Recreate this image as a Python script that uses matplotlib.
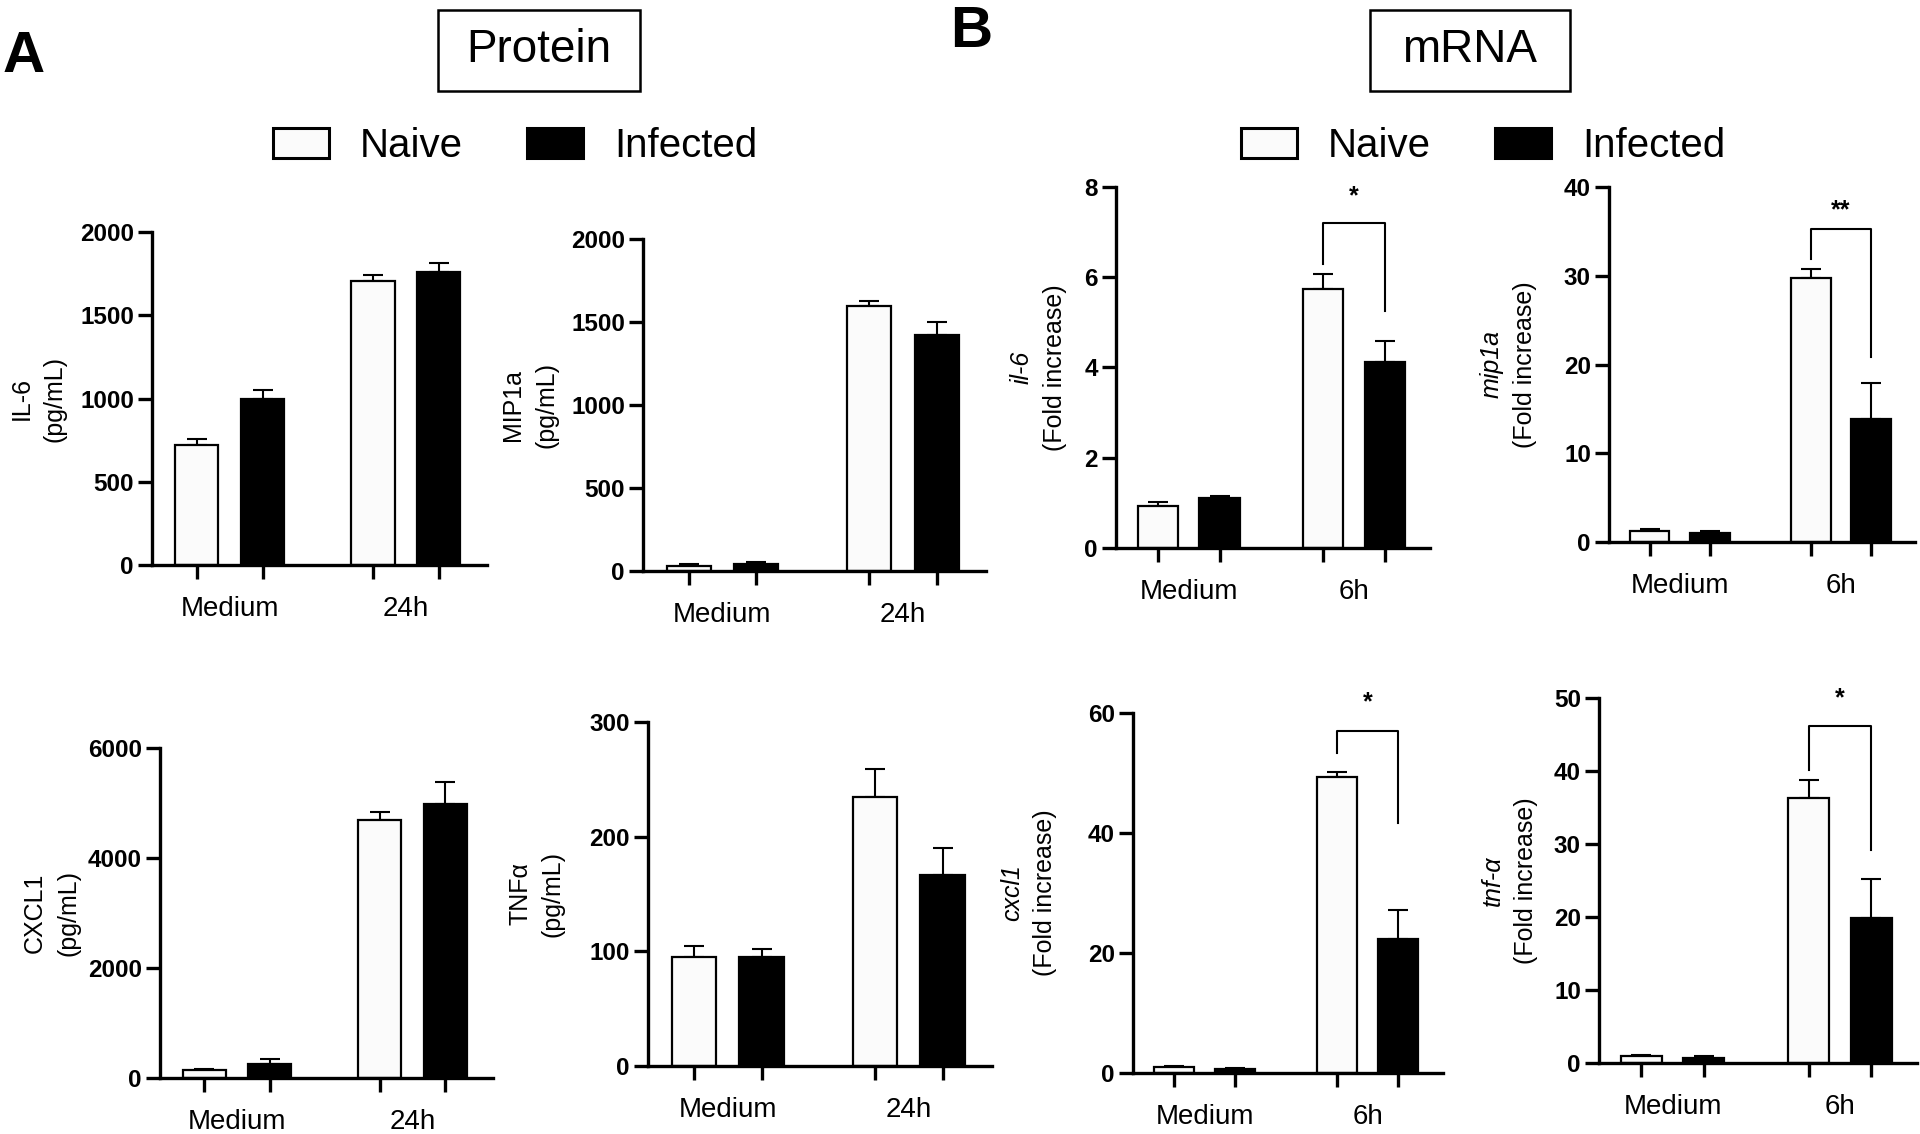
import numpy as np
import matplotlib
matplotlib.use("Agg")
import matplotlib.pyplot as plt
from matplotlib.patches import Rectangle

plt.rcParams['font.family'] = ['Liberation Sans', 'DejaVu Sans']

# ---------------- data ----------------
groups_protein = ["Medium", "24h"]
groups_mrna = ["Medium", "6h"]
series_names = ["Naive", "Infected"]

# Protein (pg/mL): mean and upper SEM
il6_naive = [722, 1707]
il6_naive_err = [36, 36]
il6_inf = [997, 1761]
il6_inf_err = [54, 54]

mip1a_naive = [30, 1596]
mip1a_naive_err = [15, 31]
mip1a_inf = [40, 1422]
mip1a_inf_err = [15, 78]

cxcl1_naive = [139, 4697]
cxcl1_naive_err = [25, 140]
cxcl1_inf = [255, 4982]
cxcl1_inf_err = [97, 406]

tnfa_naive = [95, 235]
tnfa_naive_err = [10, 24]
tnfa_inf = [95, 167]
tnfa_inf_err = [7, 23]

# mRNA (fold increase)
il6m_naive = [0.94, 5.74]
il6m_naive_err = [0.07, 0.33]
il6m_inf = [1.11, 4.12]
il6m_inf_err = [0.05, 0.46]

mip1am_naive = [1.24, 29.75]
mip1am_naive_err = [0.2, 1.05]
mip1am_inf = [1.02, 13.9]
mip1am_inf_err = [0.26, 4.07]

cxcl1m_naive = [0.94, 49.4]
cxcl1m_naive_err = [0.16, 0.8]
cxcl1m_inf = [0.72, 22.4]
cxcl1m_inf_err = [0.11, 4.8]

tnfam_naive = [1.0, 36.3]
tnfam_naive_err = [0.1, 2.5]
tnfam_inf = [0.7, 19.9]
tnfam_inf_err = [0.3, 5.3]

# significance brackets: (left leg bottom, top, right leg bottom), label, label height
il6m_bracket = ([6.3, 7.2, 5.25], "*", 7.8)
mip1am_bracket = ([31.9, 35.3, 20.8], "**", 37.4)
cxcl1m_bracket = ([53.3, 57.0, 41.7], "*", 61.8)
tnfam_bracket = ([40.1, 46.2, 29.2], "*", 50.0)

yt_il6 = [0, 500, 1000, 1500, 2000]
yt_mip = [0, 500, 1000, 1500, 2000]
yt_cxcl = [0, 2000, 4000, 6000]
yt_tnf = [0, 100, 200, 300]
yt_il6m = [0, 2, 4, 6, 8]
yt_mipm = [0, 10, 20, 30, 40]
yt_cxclm = [0, 20, 40, 60]
yt_tnfm = [0, 10, 20, 30, 40, 50]

# ---------------- figure ----------------
W, H = 1920, 1134
fig = plt.figure(figsize=(W / 100, H / 100), dpi=100)
fig.patch.set_facecolor('white')

OFF = 0.187
BW = 0.245
SPINE = 2.4
NAIVE_C = '#fbfbfb'


def panel(box, groups, naive, naive_err, inf, inf_err, yticks, line1, line2,
          italic, label_dx, bracket=None):
    L, R, T, Z = box
    ax = fig.add_axes([L / W, 1 - Z / H, (R - L) / W, (Z - T) / H])
    x = np.arange(len(groups))
    b1 = ax.bar(x - OFF, naive, width=BW, color=NAIVE_C, edgecolor='black',
                linewidth=1.6, zorder=2)
    b2 = ax.bar(x + OFF, inf, width=BW, color='black', edgecolor='black',
                linewidth=1.6, zorder=2)
    z = np.zeros(len(x))
    ax.errorbar(x - OFF, naive, yerr=[z, naive_err], fmt='none', ecolor='black',
                elinewidth=1.5, capsize=7.5, capthick=1.5, zorder=1)
    ax.errorbar(x + OFF, inf, yerr=[z, inf_err], fmt='none', ecolor='black',
                elinewidth=1.5, capsize=7.5, capthick=1.5, zorder=1)

    ax.set_xlim(-0.44, 1.46)
    ax.set_ylim(0, yticks[-1])
    ax.spines['top'].set_visible(False)
    ax.spines['right'].set_visible(False)
    for s in ('left', 'bottom'):
        ax.spines[s].set_linewidth(SPINE)
    ax.spines['left'].set_bounds(0, yticks[-1])

    ax.set_xticks(np.sort(np.concatenate([x - OFF, x + OFF])))
    ax.set_xticklabels([])
    ax.set_xticks(x, minor=True)
    ax.set_xticklabels(groups, minor=True)
    ax.tick_params(axis='x', which='major', length=10, width=SPINE, direction='out')
    ax.tick_params(axis='x', which='minor', length=0, pad=22, labelsize=20)
    ax.set_yticks(yticks)
    ax.set_yticklabels([str(v) for v in yticks])
    ax.tick_params(axis='y', length=10, width=SPINE, pad=3, labelsize=17.5)
    for lbl in ax.get_yticklabels():
        lbl.set_fontweight('bold')

    wpx = R - L
    xr = label_dx / wpx
    ax.text(xr, 0.5, line2, rotation=90, ha='right', va='center',
            transform=ax.transAxes, fontsize=18)
    ax.text(xr - 33 / wpx, 0.5, line1, rotation=90, ha='right', va='center',
            transform=ax.transAxes, fontsize=18,
            style='italic' if italic else 'normal')

    if bracket is not None:
        (yl, yt, yr), lab, ys = bracket
        x0, x1 = x[1] - OFF, x[1] + OFF
        ax.plot([x0, x0, x1, x1], [yl, yt, yt, yr], color='black', lw=1.5,
                clip_on=False, zorder=3)
        ax.text((x0 + x1) / 2, ys, lab, ha='center', va='center', fontsize=18,
                fontweight='bold', clip_on=False)
    return ax, b1, b2


ax1, hn, hi = panel((152, 487, 232, 565), groups_protein, il6_naive, il6_naive_err,
                    il6_inf, il6_inf_err, yt_il6, "IL-6", "(pg/mL)", False, -85)
panel((643, 986, 239, 571), groups_protein, mip1a_naive, mip1a_naive_err,
      mip1a_inf, mip1a_inf_err, yt_mip, "MIP1a", "(pg/mL)", False, -85)
panel((160, 493, 748, 1078), groups_protein, cxcl1_naive, cxcl1_naive_err,
      cxcl1_inf, cxcl1_inf_err, yt_cxcl, "CXCL1", "(pg/mL)", False, -80)
panel((648, 992, 722, 1066), groups_protein, tnfa_naive, tnfa_naive_err,
      tnfa_inf, tnfa_inf_err, yt_tnf, "TNF\u03b1", "(pg/mL)", False, -83)

panel((1116, 1430, 187, 548), groups_mrna, il6m_naive, il6m_naive_err,
      il6m_inf, il6m_inf_err, yt_il6m, "il-6", "(Fold increase)", True, -49,
      il6m_bracket)
panel((1609, 1915, 187, 542), groups_mrna, mip1am_naive, mip1am_naive_err,
      mip1am_inf, mip1am_inf_err, yt_mipm, "mip1a", "(Fold increase)", True, -72,
      mip1am_bracket)
panel((1133, 1443, 713, 1073), groups_mrna, cxcl1m_naive, cxcl1m_naive_err,
      cxcl1m_inf, cxcl1m_inf_err, yt_cxclm, "cxcl1", "(Fold increase)", True, -76,
      cxcl1m_bracket)
panel((1599, 1917, 698, 1063), groups_mrna, tnfam_naive, tnfam_naive_err,
      tnfam_inf, tnfam_inf_err, yt_tnfm, "tnf-\u03b1", "(Fold increase)", True, -61,
      tnfam_bracket)

# legends
for cx in (515, 1483):
    leg = fig.legend([hn, hi], series_names, loc='center',
                     bbox_to_anchor=(cx / W, 1 - 146 / H), ncol=2, frameon=False,
                     fontsize=29, handlelength=1.4, handleheight=0.74,
                     handletextpad=0.77, columnspacing=1.58)
    for p in leg.get_patches():
        p.set_linewidth(2.2)

# section titles
for (x0, x1, txt) in ((438, 640, "Protein"), (1370, 1570, "mRNA")):
    fig.add_artist(Rectangle((x0 / W, 1 - 91 / H), (x1 - x0) / W, 81 / H,
                             transform=fig.transFigure, fill=False, lw=1.8,
                             edgecolor='black'))
    fig.text((x0 + x1) / 2 / W, 1 - 50 / H, txt, ha='center', va='center',
             fontsize=33)

fig.text(24 / W, 1 - 57 / H, "A", ha='center', va='center', fontsize=42,
         fontweight='bold')
fig.text(971 / W, 1 - 32 / H, "B", ha='center', va='center', fontsize=42,
         fontweight='bold')

fig.savefig("out.png", dpi=100, facecolor='white')
